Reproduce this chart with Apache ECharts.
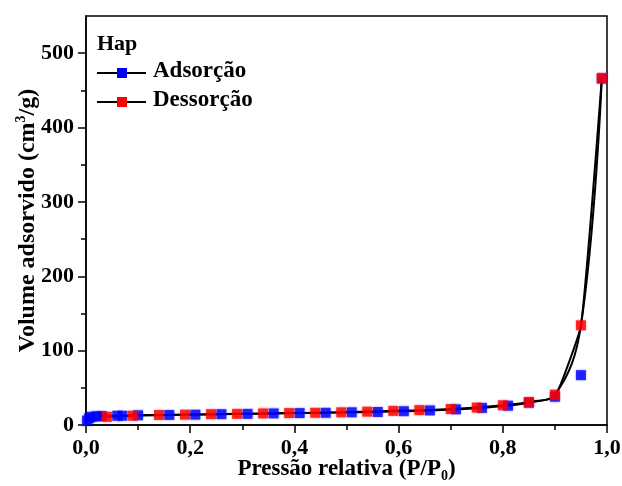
<!DOCTYPE html>
<html>
<head>
<meta charset="utf-8">
<script src="https://cdn.jsdelivr.net/npm/echarts@6/dist/echarts.min.js"></script>
<style>html,body{margin:0;padding:0;background:#fff}#c{width:622px;height:486px}</style>
</head>
<body>
<div id="c"></div>
<script>
// Adsorption (blue squares)
const adsX = [0.002, 0.006, 0.011, 0.02, 0.03, 0.06, 0.07, 0.10, 0.16, 0.21, 0.26, 0.31, 0.36, 0.41, 0.46, 0.51, 0.56, 0.61, 0.66, 0.71, 0.76, 0.81, 0.85, 0.90, 0.95, 0.99];
const adsY = [6, 9, 11, 11.5, 12, 12.5, 12.5, 13, 13.5, 14, 14.5, 15, 15.5, 16, 16.5, 17, 17.5, 18.5, 19.5, 21, 23, 26, 30, 38, 67, 466];
// Adsorption fitted curve (joins the desorption branch at 0.95)
const adsCurveY = [6, 9, 11, 11.5, 12, 12.5, 12.5, 13, 13.5, 14, 14.5, 15, 15.5, 16, 16.5, 17, 17.5, 18.5, 19.5, 21, 23, 26, 30, 38, 134, 466];
// Desorption (red squares)
const desX = [0.99, 0.95, 0.90, 0.85, 0.80, 0.75, 0.70, 0.64, 0.59, 0.54, 0.49, 0.44, 0.39, 0.34, 0.29, 0.24, 0.19, 0.14, 0.09, 0.04];
const desY = [466, 134, 41, 31, 26.5, 23.5, 21.5, 20, 19, 18, 17, 16.5, 16, 15.5, 15, 14.5, 14, 13.5, 12.5, 11];
// Axis ticks
const yMajor = [0, 100, 200, 300, 400, 500];
const yMinor = [50, 150, 250, 350, 450];
const legendTitle = 'Hap';
const seriesNames = ['Adsorção', 'Dessorção'];

const zip = (xs, ys) => xs.map((x, i) => [x, ys[i]]);
const FONT = '"Liberation Serif", "Times New Roman", serif';

const chart = echarts.init(document.getElementById('c'), null, {renderer: 'canvas'});
const axisCommon = {
  axisLine: {show: true, onZero: false, lineStyle: {color: '#000', width: 1.5}},
  splitLine: {show: false},
  nameMoveOverlap: false
};
chart.setOption({
  animation: false,
  grid: {left: 86, right: 15, top: 16, bottom: 61, show: true, borderColor: '#000', borderWidth: 1.5,
    containLabel: false, outerBoundsMode: 'none'},
  xAxis: [Object.assign({
    type: 'value', min: 0, max: 1, interval: 0.2,
    axisTick: {inside: false, length: 8, lineStyle: {color: '#000', width: 1.5}},
    minorTick: {show: true, splitNumber: 2, length: 5, lineStyle: {color: '#000', width: 1.5}},
    axisLabel: {fontFamily: FONT, fontWeight: 'bold', fontSize: 22, color: '#000', margin: 12,
      formatter: v => v.toFixed(1).replace('.', ',')},
    name: 'Pressão relativa (P/P{sub|0})', nameLocation: 'middle', nameGap: 30,
    nameTextStyle: {fontFamily: FONT, fontWeight: 'bold', fontSize: 23, color: '#000',
      rich: {sub: {fontFamily: FONT, fontWeight: 'bold', fontSize: 14, color: '#000', padding: [14, 0, 0, 0]}}}
  }, axisCommon)],
  yAxis: [Object.assign({
    type: 'value', min: 0, max: 550,
    axisTick: {inside: false, length: 8, customValues: yMajor, lineStyle: {color: '#000', width: 1.5}},
    axisLabel: {customValues: yMajor, fontFamily: FONT, fontWeight: 'bold', fontSize: 22, color: '#000', margin: 12},
    name: 'Volume adsorvido (cm{sup|3}/g)', nameLocation: 'middle', nameGap: 44,
    nameTextStyle: {fontFamily: FONT, fontWeight: 'bold', fontSize: 24, color: '#000',
      rich: {sup: {fontFamily: FONT, fontWeight: 'bold', fontSize: 14, color: '#000', padding: [0, 0, 14, 0]}}}
  }, axisCommon), {
    type: 'value', min: 0, max: 550, position: 'left',
    axisLine: {show: false}, splitLine: {show: false},
    axisTick: {inside: false, length: 5, customValues: yMinor, lineStyle: {color: '#000', width: 1.5}},
    axisLabel: {show: false}
  }],
  series: [
    {type: 'line', name: 'adsCurve', data: zip(adsX, adsCurveY), smooth: 0.12, showSymbol: false,
      lineStyle: {color: '#000', width: 2}, z: 2, silent: true},
    {type: 'line', name: 'desCurve', data: zip(desX, desY), smooth: 0.4, showSymbol: false,
      lineStyle: {color: '#000', width: 2}, z: 2, silent: true},
    {type: 'scatter', name: seriesNames[0], data: zip(adsX, adsY), symbol: 'rect', symbolSize: 10,
      itemStyle: {color: '#0000ff', shadowBlur: 2, shadowColor: 'rgba(0,0,255,0.5)'}, z: 3},
    {type: 'scatter', name: seriesNames[1], data: zip(desX, desY), symbol: 'rect', symbolSize: 10,
      itemStyle: {color: '#ff0000', shadowBlur: 2, shadowColor: 'rgba(255,0,0,0.5)'}, z: 4}
  ],
  graphic: [
    {type: 'text', left: 97, top: 33, style: {text: legendTitle, font: 'bold 22px ' + FONT, fill: '#000'}},
    {type: 'line', shape: {x1: 97, y1: 73, x2: 146, y2: 73}, style: {stroke: '#000', lineWidth: 2}},
    {type: 'rect', shape: {x: 117, y: 68, width: 10, height: 10}, style: {fill: '#0000ff'}},
    {type: 'text', left: 153, top: 60, style: {text: seriesNames[0], font: 'bold 23px ' + FONT, fill: '#000'}},
    {type: 'line', shape: {x1: 97, y1: 102, x2: 146, y2: 102}, style: {stroke: '#000', lineWidth: 2}},
    {type: 'rect', shape: {x: 117, y: 97, width: 10, height: 10}, style: {fill: '#ff0000'}},
    {type: 'text', left: 153, top: 89, style: {text: seriesNames[1], font: 'bold 23px ' + FONT, fill: '#000'}}
  ]
});
</script>
</body>
</html>
